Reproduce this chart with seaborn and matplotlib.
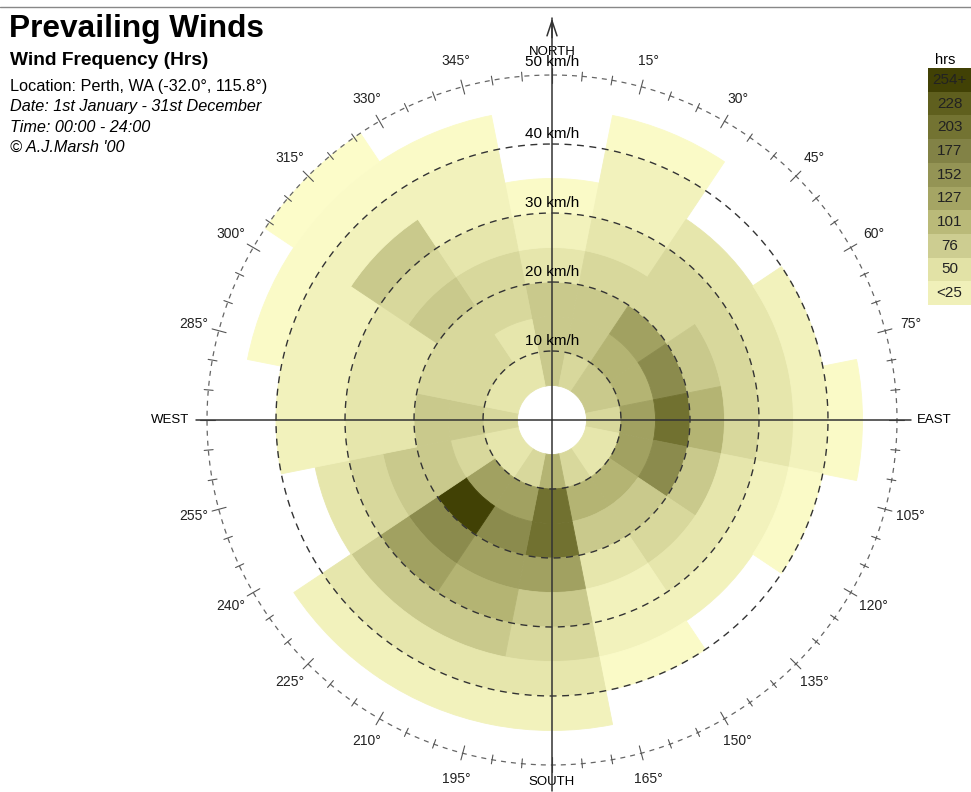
import numpy as np
import pandas as pd
import matplotlib
matplotlib.use("Agg")
import matplotlib.pyplot as plt
from matplotlib.colors import Normalize
from matplotlib.lines import Line2D
import seaborn as sns

# ---- data -------------------------------------------------------------
directions = ["N", "NNE", "NE", "ENE", "E", "ESE", "SE", "SSE",
              "S", "SSW", "SW", "WSW", "W", "WNW", "NW", "NNW"]
speed_lower = [5, 10, 15, 20, 25, 30, 35, 40, 45]      # km/h, 5 km/h bands

# hours per direction for each speed band (0 = no observations)
hrs_05_10 = [82, 62, 82, 82, 62, 42, 42, 62, 108, 62, 42, 42, 62, 42, 42, 42]
hrs_10_15 = [82, 82, 108, 108, 132, 132, 108, 108, 205, 132, 132, 62, 82, 62, 62, 42]
hrs_15_20 = [82, 82, 132, 165, 205, 165, 82, 82, 205, 165, 265, 82, 82, 62, 62, 62]
hrs_20_25 = [42, 62, 62, 82, 108, 82, 62, 42, 132, 132, 165, 82, 42, 42, 82, 62]
hrs_25_30 = [22, 42, 62, 62, 62, 42, 42, 22, 82, 108, 132, 62, 42, 42, 62, 42]
hrs_30_35 = [8, 22, 42, 42, 42, 22, 22, 22, 62, 82, 82, 42, 22, 22, 82, 22]
hrs_35_40 = [0, 22, 0, 22, 22, 8, 0, 8, 42, 42, 42, 0, 22, 22, 22, 22]
hrs_40_45 = [0, 8, 0, 0, 8, 0, 0, 0, 22, 22, 22, 0, 0, 8, 8, 8]
hrs_45_50 = [0, 0, 0, 0, 0, 0, 0, 0, 0, 0, 0, 0, 0, 0, 5, 0]

legend_labels = ["254+", "228", "203", "177", "152", "127", "101", "76", "50", "<25"]
legend_values = [254, 228, 203, 177, 152, 127, 101, 76, 50, 25]

speed_rings = [10, 20, 30, 40, 50]
degree_marks = [d for d in range(15, 360, 15) if d % 90]

# ---- style --------------------------------------------------------------
sns.set_theme(style="white")
plt.rcParams["font.family"] = ["Liberation Sans", "DejaVu Sans"]
plt.rcParams["text.color"] = "black"

shade = sns.blend_palette(
    ["#FFFFCD", "#F0F0B9", "#E1E1A5", "#CDCD91", "#B9B978", "#A5A564",
     "#949455", "#828246", "#737332", "#5F5F1E", "#414105"], as_cmap=True)
norm = Normalize(0, 254)

table = pd.DataFrame({
    "direction": np.repeat([directions], len(speed_lower), axis=0).ravel(),
    "angle": np.tile(np.arange(len(directions)) * 22.5, len(speed_lower)),
    "lower": np.repeat(speed_lower, len(directions)),
    "hours": np.concatenate([hrs_05_10, hrs_10_15, hrs_15_20, hrs_20_25,
                             hrs_25_30, hrs_30_35, hrs_35_40, hrs_40_45,
                             hrs_45_50]),
})
table = table[table["hours"] > 0]

W, H = 971, 792
fig = plt.figure(figsize=(W / 100, H / 100), dpi=100)
cx, cy, R = 552, 420, 345
ax = fig.add_axes([(cx - R) / W, (H - cy - R) / H, 2 * R / W, 2 * R / H],
                  projection="polar")
ax.set_theta_zero_location("N")
ax.set_theta_direction(-1)
ax.set_ylim(0, 50)
ax.grid(False)
ax.set_xticks([])
ax.set_yticks([])
ax.spines["polar"].set_visible(False)
ax.set_facecolor("white")

# wind-frequency cells
cell_colors = shade(norm(table["hours"].clip(upper=254)))
ax.bar(np.deg2rad(table["angle"]), 5, width=np.deg2rad(22.5),
       bottom=table["lower"], color=cell_colors, edgecolor=cell_colors,
       linewidth=0.6, align="center", zorder=1)

# speed rings
circle = np.linspace(0, 2 * np.pi, 721)
for k in speed_rings[:-1]:
    ax.plot(circle, np.full_like(circle, k), color="#333333", lw=1.0,
            ls=(0, (5, 4)), zorder=3)
    ax.text(0, k + 0.9, f"{k} km/h", ha="center", va="baseline",
            fontsize=11, color="black", zorder=5)
ax.plot(circle, np.full_like(circle, 50), color="#666666", lw=0.9,
        ls=(0, (4, 4)), zorder=3, clip_on=False)
ax.text(0, 51.3, "50 km/h", ha="center", va="baseline", fontsize=11,
        color="black", zorder=5, clip_on=False)

# compass ticks on the outer ring
for d in range(0, 360, 5):
    t = np.deg2rad(d)
    r0, r1 = (48.9, 51.0) if d % 15 == 0 else (49.3, 50.6)
    ax.plot([t, t], [r0, r1], color="#555555", lw=0.8, zorder=3, clip_on=False)

# cross-hair axes
ax.plot([0, 0], [0, 58.3], color="#333333", lw=1.1, zorder=4, clip_on=False)
ax.plot([np.pi, np.pi], [0, 53.8], color="#333333", lw=1.1, zorder=4, clip_on=False)
ax.plot([np.pi / 2, np.pi / 2], [0, 52.0], color="#333333", lw=1.1, zorder=4, clip_on=False)
ax.plot([1.5 * np.pi, 1.5 * np.pi], [0, 51.6], color="#333333", lw=1.1, zorder=4, clip_on=False)
ax.annotate("", xy=(0, 58.6), xytext=(0, 55.0), annotation_clip=False,
            arrowprops=dict(arrowstyle="->,head_length=0.9,head_width=0.3",
                            color="#333333", lw=1.1))

# compass labels
ax.text(0, 53.3, "NORTH", ha="center", va="center", fontsize=9.5, clip_on=False)
ax.text(np.pi, 52.5, "SOUTH", ha="center", va="center", fontsize=9.5, clip_on=False)
ax.text(np.pi / 2, 55.4, "EAST", ha="center", va="center", fontsize=9.5, clip_on=False)
ax.text(1.5 * np.pi, 55.4, "WEST", ha="center", va="center", fontsize=9.5, clip_on=False)
for d in degree_marks:
    ax.text(np.deg2rad(d), 53.8, f"{d}°", ha="center", va="center",
            fontsize=10, color="#222222", clip_on=False)

# header text
def fx(px):
    return px / W

def fy(py):
    return 1 - py / H

fig.add_artist(Line2D([0, 1], [fy(7), fy(7)], color="#888888", lw=1.0))
fig.text(fx(9), fy(37), "Prevailing Winds", fontsize=22.8, fontweight="bold", va="baseline")
fig.text(fx(10), fy(65), "Wind Frequency (Hrs)", fontsize=13.8, fontweight="bold", va="baseline")
fig.text(fx(10), fy(91), "Location: Perth, WA (-32.0°, 115.8°)", fontsize=11.7, va="baseline")
fig.text(fx(10), fy(111), "Date: 1st January - 31st December", fontsize=11.7, style="italic", va="baseline")
fig.text(fx(10), fy(132), "Time: 00:00 - 24:00", fontsize=11.7, style="italic", va="baseline")
fig.text(fx(10), fy(152), "© A.J.Marsh '00", fontsize=11.7, style="italic", va="baseline")

# colour key
key_top, key_h = 68, 23.7
lax = fig.add_axes([fx(928), fy(key_top + key_h * len(legend_values)),
                    fx(43), key_h * len(legend_values) / H])
pos = np.arange(len(legend_values))
lax.bar(np.zeros_like(pos), 1, bottom=pos, width=1, align="edge",
        color=shade(norm(legend_values)), linewidth=0)
for p, lab in zip(pos, legend_labels):
    lax.text(0.5, p + 0.5, lab, ha="center", va="center", fontsize=11, color="#222222")
lax.set_xlim(0, 1)
lax.set_ylim(len(legend_values), 0)
lax.axis("off")
fig.text(fx(945), fy(60), "hrs", ha="center", va="center", fontsize=10.5)

fig.savefig("out.png", dpi=100, facecolor="white")
